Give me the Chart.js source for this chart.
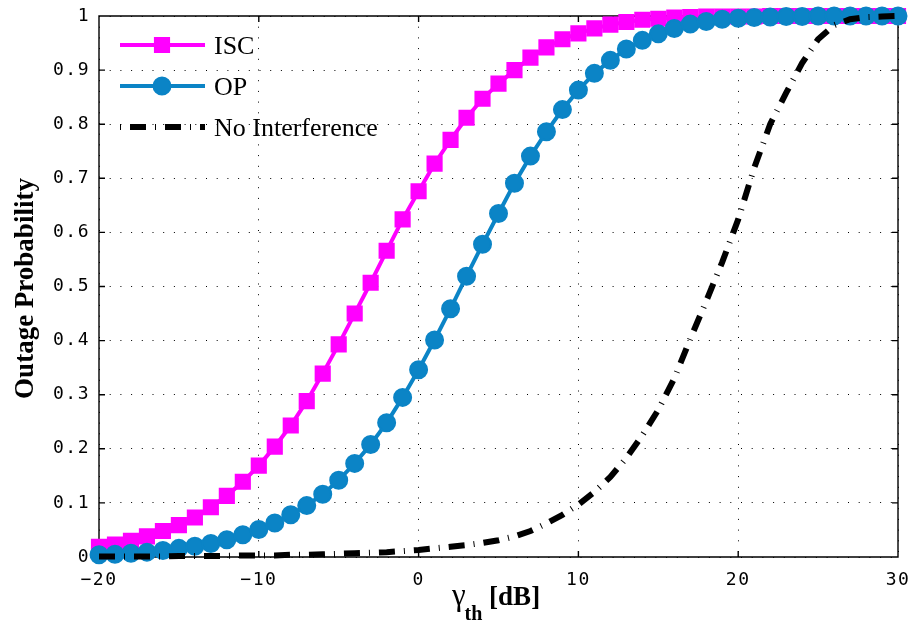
<!DOCTYPE html>
<html>
<head>
<meta charset="utf-8">
<title>Outage Probability</title>
<script src="https://cdn.jsdelivr.net/npm/chart.js@4.4.0/dist/chart.umd.min.js"></script>
<style>
    body { margin: 0; background: #fff; }
    canvas { display: block; }
</style>
</head>
<body>
<canvas id="outageChart" width="914" height="623"></canvas>
<script>
// data (gamma_th in dB, one marker per dB)
const gammaDb = [-20, -19, -18, -17, -16, -15, -14, -13, -12, -11,
    -10, -9, -8, -7, -6, -5, -4, -3, -2, -1,
    0, 1, 2, 3, 4, 5, 6, 7, 8, 9,
    10, 11, 12, 13, 14, 15, 16, 17, 18, 19,
    20, 21, 22, 23, 24, 25, 26, 27, 28, 29, 30];

const iscValues = [0.019, 0.023, 0.030, 0.038, 0.048, 0.059, 0.073, 0.092, 0.113, 0.139,
    0.169, 0.204, 0.243, 0.288, 0.339, 0.393, 0.450, 0.507, 0.566, 0.624,
    0.676, 0.727, 0.771, 0.812, 0.847, 0.875, 0.900, 0.923, 0.942, 0.957,
    0.968, 0.977, 0.984, 0.989, 0.993, 0.995, 0.997, 0.998, 0.999, 0.999,
    0.999, 0.999, 1.0, 1.0, 1.0, 1.0, 1.0, 1.0, 1.0, 1.0, 1.0];

const opValues = [0.004, 0.005, 0.007, 0.009, 0.012, 0.016, 0.020, 0.025, 0.032, 0.041,
    0.051, 0.063, 0.078, 0.095, 0.116, 0.142, 0.173, 0.208, 0.248, 0.295,
    0.346, 0.401, 0.459, 0.519, 0.578, 0.635, 0.691, 0.741, 0.786, 0.827,
    0.863, 0.894, 0.918, 0.939, 0.955, 0.967, 0.977, 0.985, 0.990, 0.994,
    0.996, 0.997, 0.998, 0.999, 0.999, 1.0, 1.0, 1.0, 1.0, 1.0, 1.0];

const noInterfValues = [0.001, 0.001, 0.001, 0.001, 0.001, 0.002, 0.002, 0.002, 0.002, 0.003,
    0.003, 0.003, 0.004, 0.004, 0.005, 0.006, 0.007, 0.008, 0.009, 0.011,
    0.013, 0.016, 0.019, 0.022, 0.026, 0.031, 0.038, 0.048, 0.062, 0.078,
    0.097, 0.120, 0.148, 0.183, 0.225, 0.272, 0.330, 0.403, 0.473, 0.545,
    0.624, 0.719, 0.800, 0.858, 0.913, 0.957, 0.983, 0.994, 0.998, 0.999, 1.0];

const seriesNames = ['ISC', 'OP', 'No Interference'];
const xTickLabels = ['\u221220', '\u221210', '0', '10', '20', '30'];
const yTickLabels = ['0', '0.1', '0.2', '0.3', '0.4', '0.5', '0.6', '0.7', '0.8', '0.9', '1'];

const MAGENTA = '#ff00ff';
const BLUE = '#0b84c6';

function toPoints(values) {
    return gammaDb.map((g, i) => ({ x: g, y: values[i] }));
}

// frame with inward ticks (drawn under the data)
const framePlugin = {
    id: 'frame',
    beforeDatasetsDraw(chart) {
        const ctx = chart.ctx;
        const a = chart.chartArea;
        const tick = 6;
        ctx.save();
        ctx.strokeStyle = '#000';
        ctx.lineWidth = 1.4;
        ctx.setLineDash([]);
        ctx.beginPath();
        ctx.rect(a.left, a.top, a.right - a.left, a.bottom - a.top);
        chart.scales.x.ticks.forEach(t => {
            const px = chart.scales.x.getPixelForValue(t.value);
            ctx.moveTo(px, a.bottom); ctx.lineTo(px, a.bottom - tick);
            ctx.moveTo(px, a.top); ctx.lineTo(px, a.top + tick);
        });
        chart.scales.y.ticks.forEach(t => {
            const py = chart.scales.y.getPixelForValue(t.value);
            ctx.moveTo(a.left, py); ctx.lineTo(a.left + tick, py);
            ctx.moveTo(a.right, py); ctx.lineTo(a.right - tick, py);
        });
        ctx.stroke();
        ctx.restore();
    }
};

// legend in the upper left corner, no box
const legendPlugin = {
    id: 'insideLegend',
    afterDraw(chart) {
        const ctx = chart.ctx;
        const a = chart.chartArea;
        const x0 = a.left + 21, x1 = a.left + 106, xm = a.left + 63;
        chart.data.datasets.forEach((ds, i) => {
            const y = a.top + 29 + i * 41;
            ctx.save();
            ctx.letterSpacing = '0px';
            ctx.strokeStyle = ds.borderColor;
            ctx.lineWidth = ds.borderWidth;
            ctx.setLineDash(ds.borderDash || []);
            ctx.lineDashOffset = ds.borderDash ? 25 : 0;
            ctx.beginPath();
            ctx.moveTo(x0, y);
            ctx.lineTo(x1, y);
            ctx.stroke();
            ctx.setLineDash([]);
            if (ds.pointRadius > 0) {
                ctx.fillStyle = ds.pointBackgroundColor;
                ctx.strokeStyle = ds.pointBorderColor;
                ctx.lineWidth = ds.pointBorderWidth;
                Chart.helpers.drawPoint(ctx, {
                    pointStyle: ds.pointStyle,
                    radius: ds.pointRadius,
                    borderWidth: ds.pointBorderWidth,
                    rotation: 0
                }, xm, y);
            }
            ctx.fillStyle = '#000';
            ctx.font = '26px "Liberation Serif"';
            ctx.textBaseline = 'middle';
            ctx.textAlign = 'left';
            ctx.fillText(ds.label, x1 + 9, y + 2);
            ctx.restore();
        });
    }
};

// axis titles (x title has a subscript)
const titlePlugin = {
    id: 'axisTitles',
    beforeDraw(chart) {
        chart.ctx.letterSpacing = '1.5px';
    },
    afterDraw(chart) {
        const ctx = chart.ctx;
        const a = chart.chartArea;
        ctx.save();
        ctx.letterSpacing = '0px';
        ctx.fillStyle = '#000';
        ctx.textBaseline = 'alphabetic';

        // y title
        ctx.save();
        ctx.translate(33, (a.top + a.bottom) / 2 + 2);
        ctx.rotate(-Math.PI / 2);
        ctx.font = 'bold 27px "Liberation Serif"';
        ctx.textAlign = 'center';
        ctx.fillText('Outage Probability', 0, 0);
        ctx.restore();

        // x title: gamma_th [dB]
        const fGamma = '31px "Liberation Serif"';
        const fSub = 'bold 20px "Liberation Serif"';
        const fMain = 'bold 27px "Liberation Serif"';
        ctx.textAlign = 'left';
        ctx.font = fGamma; const wG = ctx.measureText('\u03b3').width;
        ctx.font = fSub; const wS = ctx.measureText('th').width;
        ctx.font = fMain; const wM = ctx.measureText(' [dB]').width;
        const total = wG + wS + wM;
        let x = (a.left + a.right) / 2 - total / 2 - 2;
        const base = 605;
        ctx.font = fGamma; ctx.fillText('\u03b3', x, base); x += wG - 1;
        ctx.font = fSub; ctx.fillText('th', x, base + 15); x += wS;
        ctx.font = fMain; ctx.fillText(' [dB]', x, base);
        ctx.restore();
    }
};

const ctx = document.getElementById('outageChart').getContext('2d');
const outageChart = new Chart(ctx, {
    type: 'line',
    data: {
        datasets: [{
            label: seriesNames[0],
            data: toPoints(iscValues),
            borderColor: MAGENTA,
            backgroundColor: MAGENTA,
            borderWidth: 4,
            pointStyle: 'rect',
            pointRadius: 10,
            pointBackgroundColor: MAGENTA,
            pointBorderColor: MAGENTA,
            pointBorderWidth: 2,
            order: 2
        }, {
            label: seriesNames[1],
            data: toPoints(opValues),
            borderColor: BLUE,
            backgroundColor: BLUE,
            borderWidth: 4,
            pointStyle: 'circle',
            pointRadius: 8.5,
            pointBackgroundColor: BLUE,
            pointBorderColor: BLUE,
            pointBorderWidth: 2,
            order: 1
        }, {
            label: seriesNames[2],
            data: toPoints(noInterfValues),
            borderColor: '#000',
            backgroundColor: '#000',
            borderWidth: 6,
            borderDash: [16, 9, 1, 9],
            pointRadius: 0,
            pointBorderWidth: 0,
            order: 0
        }]
    },
    options: {
        responsive: false,
        animation: false,
        clip: false,
        layout: { padding: { left: 0, right: 16, top: 16, bottom: 0 } },
        plugins: {
            legend: { display: false },
            tooltip: { enabled: false }
        },
        elements: { line: { tension: 0, fill: false } },
        scales: {
            x: {
                type: 'linear',
                min: -20,
                max: 30,
                afterFit: s => { s.height = 66; s.paddingLeft = 0; s.paddingRight = 0; },
                border: { display: false, dash: [1, 9.7] },
                grid: { color: '#000', lineWidth: 1, drawTicks: false },
                ticks: {
                    stepSize: 10,
                    padding: 13,
                    color: '#000',
                    font: { family: 'DejaVu Sans Mono', size: 18 },
                    maxRotation: 0,
                    callback: (v, i) => xTickLabels[i]
                }
            },
            y: {
                min: 0,
                max: 1,
                afterFit: s => { s.width = 99; s.paddingTop = 0; s.paddingBottom = 0; },
                border: { display: false, dash: [1, 9.7] },
                grid: { color: '#000', lineWidth: 1, drawTicks: false },
                ticks: {
                    stepSize: 0.1,
                    padding: 9,
                    color: '#000',
                    font: { family: 'DejaVu Sans Mono', size: 18 },
                    callback: (v, i) => yTickLabels[i]
                }
            }
        }
    },
    plugins: [framePlugin, legendPlugin, titlePlugin]
});
</script>
</body>
</html>
